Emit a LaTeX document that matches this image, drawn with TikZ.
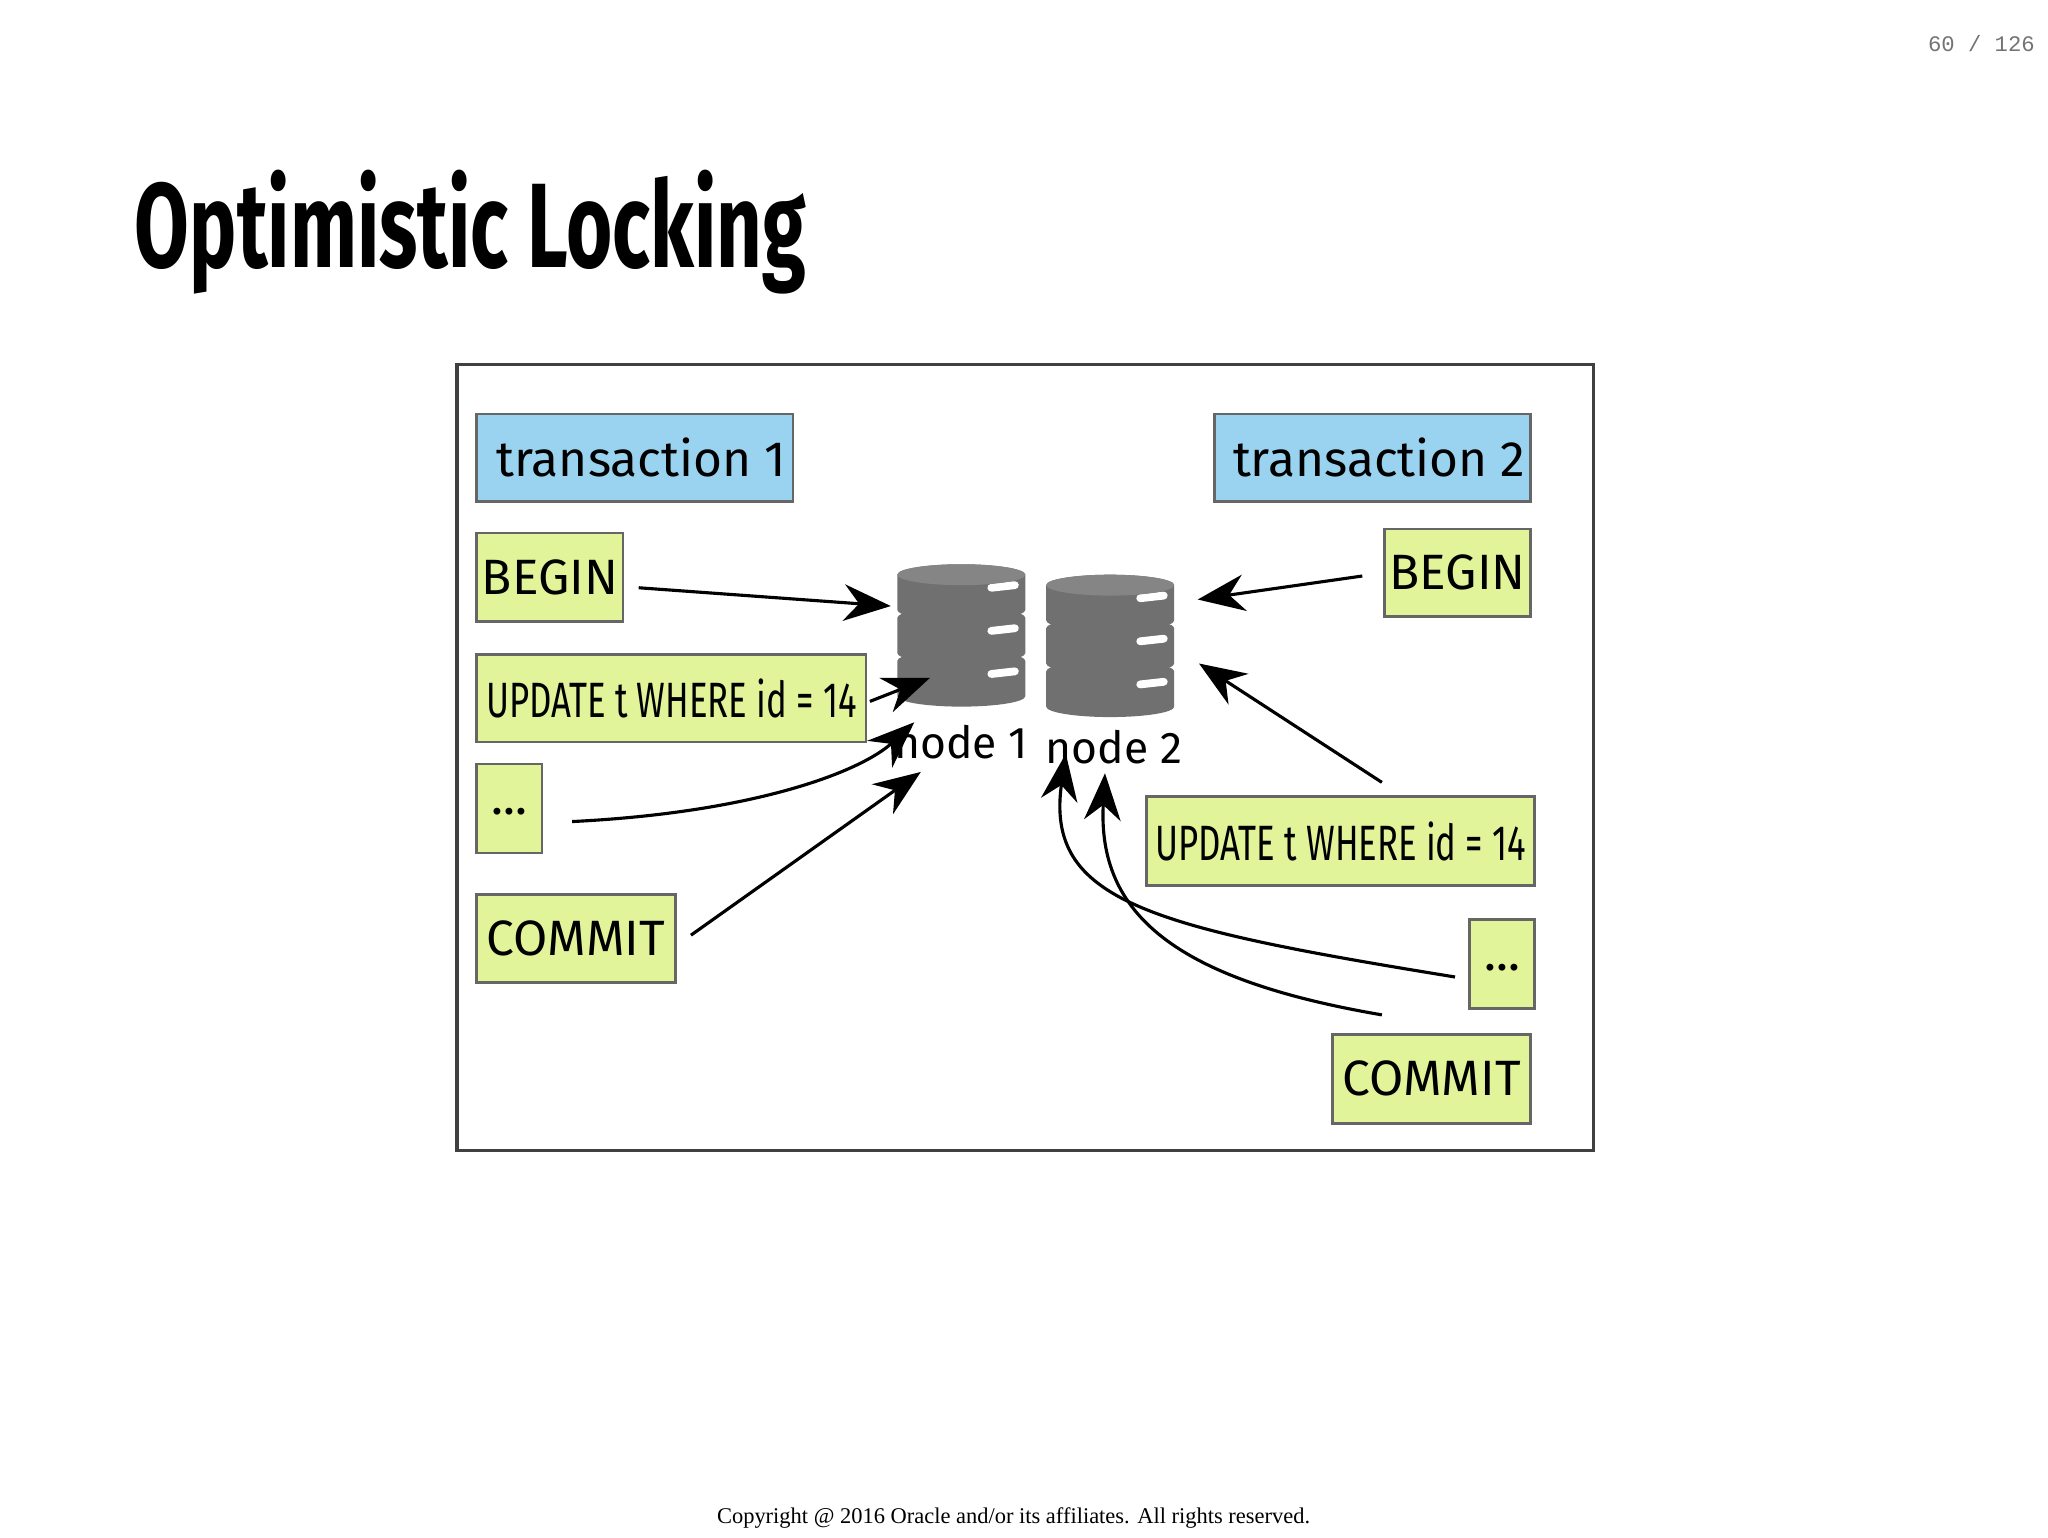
\documentclass[tikz,border=0pt]{standalone}
\usepackage{fontspec}
\setmainfont{Liberation Serif}
\newfontfamily\condf{Fira Sans}
\newfontfamily\monof{Liberation Mono}
\usetikzlibrary{arrows.meta}
\definecolor{boxg}{HTML}{E2F49A}
\definecolor{boxb}{HTML}{99D3F0}
\definecolor{dbg}{HTML}{707070}
\tikzset{
 lbl/.style={draw=black!60,line width=1,anchor=north west,inner sep=0,font=\condf\fontsize{19}{19}\selectfont},
 tr/.style={lbl,fill=boxb},
 gr/.style={lbl,fill=boxg},
 arr/.style={line width=1.2,-{Stealth[length=18,width=14]}},
 pics/db/.style={code={
   \foreach \k in {0,1,2}{
     \fill[dbg] (0,{8+\k*33}) arc[start angle=180,end angle=360,x radius=49,y radius=8] -- (98,{35+\k*33}) arc[start angle=0,end angle=-180,x radius=49,y radius=-8] -- cycle;
     \draw[white,line width=3,line cap=round] (72,{18+\k*33}) -- (90,{16+\k*33});
   }
   \fill[dbg!85] (49,8) ellipse[x radius=49,y radius=8];
 }}
}
\begin{document}
\begin{tikzpicture}[x=0.5pt,y=-0.5pt]
\useasboundingbox (0,0) rectangle (1568,1177);
\node[font=\monof\fontsize{8.5}{9}\selectfont,text=black!55] (pg) at (1517,33) {60 / 126};
\node[anchor=west,font=\condf\bfseries\fontsize{46}{46}\selectfont,xscale=0.66,inner sep=0] (title) at (103,178) {Optimistic Locking};
\draw[black!75,line width=1.3] (350,279) rectangle (1220,881);
\node[tr,minimum width=121pt,minimum height=33.5pt] (t1) at (364,316) {\hspace{5pt}transaction 1\hfill};
\node[tr,minimum width=121pt,minimum height=33.5pt] (t2) at (929,316) {\hspace{5pt}transaction 2\hfill};
\node[gr,minimum width=56pt,minimum height=34pt] (b1) at (364,407) {BEGIN};
\node[gr,minimum width=149pt,minimum height=33.5pt] (u1) at (364,500) {\scalebox{0.7}[1]{UPDATE t WHERE id = 14}};
\node[gr,minimum width=25pt,minimum height=34pt] (d1) at (364,584) {\raisebox{-5pt}{...}};
\node[gr,minimum width=76pt,minimum height=33.5pt] (c1) at (364,684) {COMMIT};
\node[gr,minimum width=56pt,minimum height=33.5pt] (b2) at (1059,404) {BEGIN};
\node[gr,minimum width=148.5pt,minimum height=34pt] (u2) at (877,609) {\scalebox{0.7}[1]{UPDATE t WHERE id = 14}};
\node[gr,minimum width=25pt,minimum height=34pt] (d2) at (1124,703) {\raisebox{-5pt}{...}};
\node[gr,minimum width=76pt,minimum height=34pt] (c2) at (1019,791) {COMMIT};
\pic at (687,432) {db};
\pic at (801,440) {db};
\node[font=\condf\fontsize{17}{17}\selectfont] (n1) at (736,568) {node 1};
\node[font=\condf\fontsize{17}{17}\selectfont] (n2) at (853,572) {node 2};
\coordinate (a1) at (682,464); \coordinate (a2) at (712,519); \coordinate (a3) at (700,553);
\coordinate (a4) at (705,591); \coordinate (a5) at (917,459); \coordinate (a6) at (918,508);
\coordinate (a7) at (816,577); \coordinate (a8) at (846,592);
\coordinate (s1) at (489,450); \coordinate (s2) at (666,537); \coordinate (s3) at (438,629);
\coordinate (s4) at (529,716); \coordinate (s5) at (1043,441); \coordinate (s6) at (1058,599);
\coordinate (s7) at (1114,748); \coordinate (s8) at (1058,777);
\draw[arr] (s1) -- (a1);
\draw[arr] (s2) -- (a2);
\draw[arr] (s3) .. controls (580,622) and (660,590) .. (a3);
\draw[arr] (s4) -- (a4);
\draw[arr] (s5) -- (a5);
\draw[arr] (s6) -- (a6);
\draw[arr] (s7) .. controls (880,710) and (800,690) .. (a7);
\draw[arr] (s8) .. controls (900,750) and (840,700) .. (a8);
\node[font=\fontsize{8.6}{9}\selectfont] (cp) at (776,1162) {Copyright @ 2016 Oracle and/or its affiliates. All rights reserved.};
\end{tikzpicture}
\end{document}
